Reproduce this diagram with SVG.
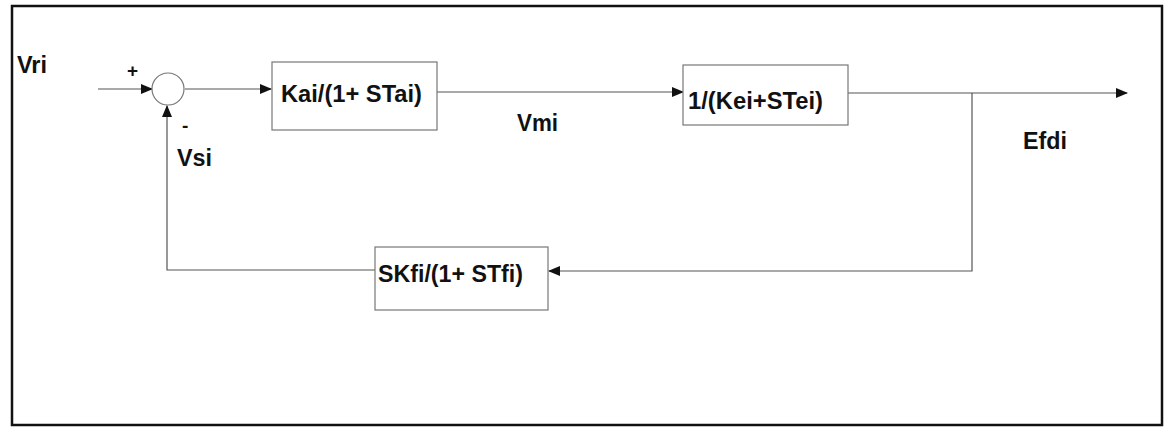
<svg xmlns="http://www.w3.org/2000/svg" width="1173" height="436" viewBox="0 0 1173 436">
<style>
.lbl{font-family:"Liberation Sans",Arial,sans-serif;font-weight:bold;font-size:23px;fill:#111}
.sm{font-family:"Liberation Sans",Arial,sans-serif;font-weight:bold;font-size:19px;fill:#111}
.box{fill:#fff;stroke:#777;stroke-width:1.2}
.ln{fill:none;stroke:#555;stroke-width:1.2}
</style>
<defs>
<marker id="ah" markerWidth="12" markerHeight="10" refX="11" refY="5" orient="auto" markerUnits="userSpaceOnUse">
<path d="M0,0 L12,5 L0,10 Z" fill="#111"/>
</marker>
</defs>
<rect x="0" y="0" width="1173" height="436" fill="#fff"/>
<rect x="12" y="6" width="1150" height="419" fill="#fff" stroke="#111" stroke-width="2.5"/>
<g id="connectors">
<line class="ln" x1="98" y1="89" x2="152" y2="89" marker-end="url(#ah)"/>
<line class="ln" x1="185" y1="89" x2="271" y2="89" marker-end="url(#ah)"/>
<line class="ln" x1="437" y1="92" x2="683" y2="92" marker-end="url(#ah)"/>
<line class="ln" x1="848" y1="93" x2="1127" y2="93" marker-end="url(#ah)"/>
<polyline class="ln" points="972,93 972,271 549,271" marker-end="url(#ah)"/>
<polyline class="ln" points="375,270 167,270 167,106" marker-end="url(#ah)"/>
</g>
<g id="sum">
<circle cx="168" cy="89" r="16" fill="#fff" stroke="#777" stroke-width="1.2"/>
<text class="sm" x="127" y="77">+</text>
<text class="sm" x="182" y="132">-</text>
</g>
<g id="block-kai">
<rect class="box" x="272" y="62" width="165" height="68"/>
<text class="lbl" x="281" y="102" textLength="141" lengthAdjust="spacingAndGlyphs">Kai/(1+ STai)</text>
</g>
<g id="block-kei">
<rect class="box" x="683" y="65" width="165" height="60"/>
<text class="lbl" x="688" y="109" textLength="135" lengthAdjust="spacingAndGlyphs">1/(Kei+STei)</text>
</g>
<g id="block-kfi">
<rect class="box" x="375" y="247" width="173" height="63"/>
<text class="lbl" x="378" y="282" textLength="145" lengthAdjust="spacingAndGlyphs">SKfi/(1+ STfi)</text>
</g>
<g id="labels">
<text class="lbl" x="17" y="73" textLength="30" lengthAdjust="spacingAndGlyphs">Vri</text>
<text class="lbl" x="177" y="166" textLength="35" lengthAdjust="spacingAndGlyphs">Vsi</text>
<text class="lbl" x="517" y="131" textLength="41" lengthAdjust="spacingAndGlyphs">Vmi</text>
<text class="lbl" x="1023" y="149" textLength="44" lengthAdjust="spacingAndGlyphs">Efdi</text>
</g>
</svg>
